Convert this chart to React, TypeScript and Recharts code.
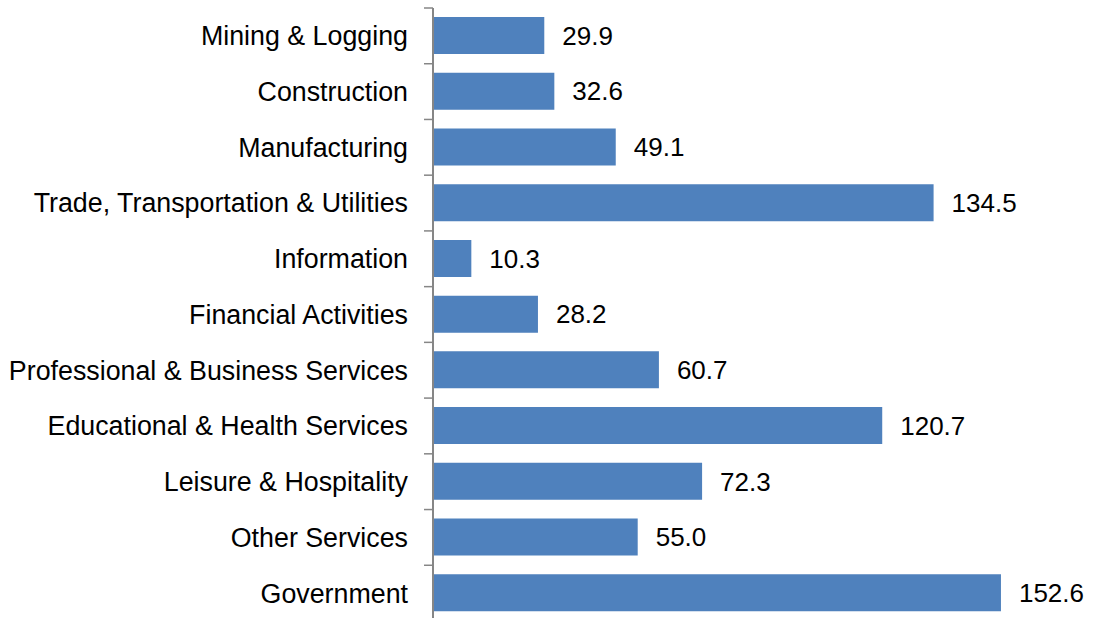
import React from 'react';
import { BarChart, Bar, XAxis, YAxis, LabelList } from 'recharts';

const sectors = [
  'Mining & Logging',
  'Construction',
  'Manufacturing',
  'Trade, Transportation & Utilities',
  'Information',
  'Financial Activities',
  'Professional & Business Services',
  'Educational & Health Services',
  'Leisure & Hospitality',
  'Other Services',
  'Government',
];

const jobs = [29.9, 32.6, 49.1, 134.5, 10.3, 28.2, 60.7, 120.7, 72.3, 55.0, 152.6];

const CHART_W = 1093;
const CHART_H = 621;
const MARGIN_TOP = 8;
const AXIS_W = 433;
const FONT = '"Liberation Sans", Arial, sans-serif';

// band height, used only to put the tick marks between categories
const BAND = (CHART_H - MARGIN_TOP) / sectors.length;

const data = sectors.map((s, i) => ({ sector: s, value: jobs[i] }));

function SectorTick(props: any) {
  const { x, y, payload, index } = props;
  const top = y - BAND / 2;
  return (
    <g>
      <line x1={x - 9} x2={x} y1={top} y2={top} stroke="#868686" strokeWidth={1.5} />
      {index === sectors.length - 1 && (
        <line x1={x - 9} x2={x} y1={top + BAND} y2={top + BAND} stroke="#868686" strokeWidth={1.5} />
      )}
      <text
        x={x - 25}
        y={y}
        dy="0.35em"
        textAnchor="end"
        fill="#000"
        fontSize={26.8}
        fontFamily={FONT}
      >
        {payload.value}
      </text>
    </g>
  );
}

export default function App() {
  return (
    <div style={{ position: 'absolute', left: 0, top: 0, background: '#fff' }}>
      <BarChart
        width={CHART_W}
        height={CHART_H}
        data={data}
        layout="vertical"
        margin={{ top: MARGIN_TOP, right: 64.5, bottom: 0, left: 0 }}
      >
        <XAxis type="number" domain={[0, 160]} hide />
        <YAxis
          type="category"
          dataKey="sector"
          width={AXIS_W}
          interval={0}
          tickLine={false}
          tickSize={0}
          tickMargin={0}
          axisLine={{ stroke: '#868686', strokeWidth: 2 }}
          tick={<SectorTick />}
        />
        <Bar dataKey="value" fill="#4F81BD" barSize={37} isAnimationActive={false}>
          <LabelList
            dataKey="value"
            position="right"
            offset={18}
            fill="#000"
            fontSize={26}
            fontFamily={FONT}
            formatter={(v: any) => Number(v).toFixed(1)}
          />
        </Bar>
      </BarChart>
    </div>
  );
}
